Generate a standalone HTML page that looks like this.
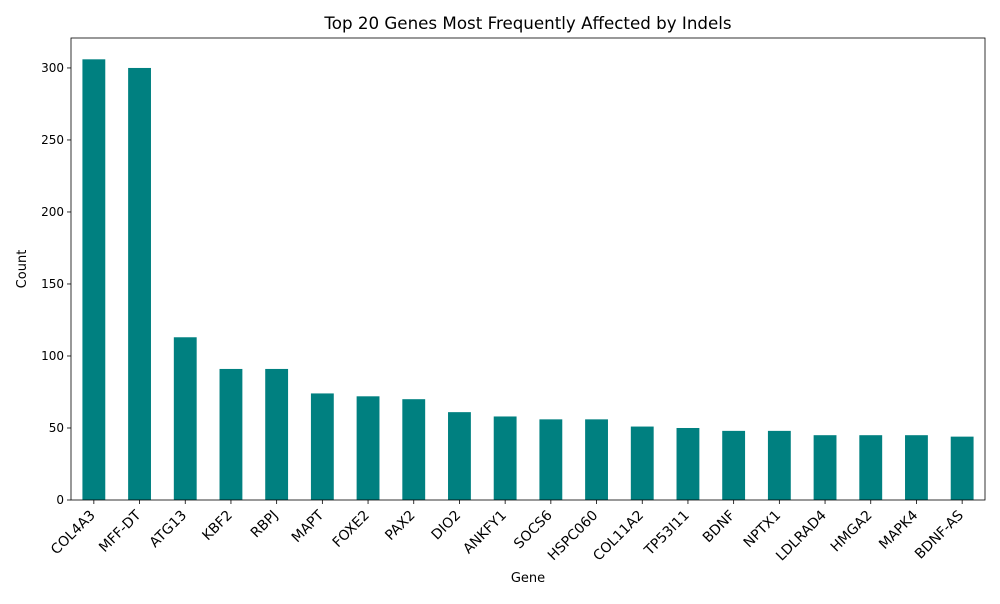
<!DOCTYPE html>
<html><head><meta charset="utf-8"><style>
body{margin:0;background:#fff;font-family:"DejaVu Sans","Liberation Sans",sans-serif;}
svg text{font-family:"DejaVu Sans","Liberation Sans",sans-serif;fill:#000;}
</style></head><body>
<svg id="chart" width="1000" height="600" xmlns="http://www.w3.org/2000/svg"></svg>
<script>
const categories=["COL4A3","MFF-DT","ATG13","KBF2","RBPJ","MAPT","FOXE2","PAX2","DIO2","ANKFY1","SOCS6","HSPC060","COL11A2","TP53I11","BDNF","NPTX1","LDLRAD4","HMGA2","MAPK4","BDNF-AS"];
const counts=[306,300,113,91,91,74,72,70,61,58,56,56,51,50,48,48,45,45,45,44];
const yTicks=[0,50,100,150,200,250,300];
const svg=document.getElementById('chart');
const NS='http://www.w3.org/2000/svg';
const L=71,R=985,T=38,B=500,yMax=320.8;
const y=v=>B-(v/yMax)*(B-T);
const band=(R-L)/categories.length;
const x=i=>L+band*(i+0.5);
function mk(tag,attrs,txt){const e=document.createElementNS(NS,tag);for(const k in attrs)e.setAttribute(k,attrs[k]);if(txt!==undefined)e.textContent=txt;svg.appendChild(e);return e;}
counts.forEach((v,i)=>{
  const r=mk('rect',{x:x(i)-band*0.25,y:y(v),width:band*0.5,height:B-y(v),fill:'#008080'});
  
  
  mk('line',{x1:x(i),x2:x(i),y1:B,y2:B+4,stroke:'#000','stroke-width':0.8});
  const px=x(i)+2,py=B+16;
  const lb=mk('text',{x:px,y:py,'font-size':13.9,'text-anchor':'end',transform:`rotate(-45 ${px} ${py})`},categories[i]);
  
  
});
yTicks.forEach(v=>{
  mk('line',{x1:L-4,x2:L,y1:y(v),y2:y(v),stroke:'#000','stroke-width':0.8});
  const t=mk('text',{x:L-7,y:y(v)+4,'font-size':12,'text-anchor':'end'},v);
  
  
});
const f=mk('rect',{x:L,y:T,width:R-L,height:B-T,fill:'none',stroke:'#000','stroke-width':0.8});


const ti=mk('text',{x:(L+R)/2,y:29,'font-size':16.7,'text-anchor':'middle'},'Top 20 Genes Most Frequently Affected by Indels');


const xt=mk('text',{x:(L+R)/2,y:582,'font-size':13,'text-anchor':'middle'},'Gene');


const yt=mk('text',{x:26,y:(T+B)/2,'font-size':13,'text-anchor':'middle',transform:`rotate(-90 26 ${(T+B)/2})`},'Count');


</script>
</body></html>
